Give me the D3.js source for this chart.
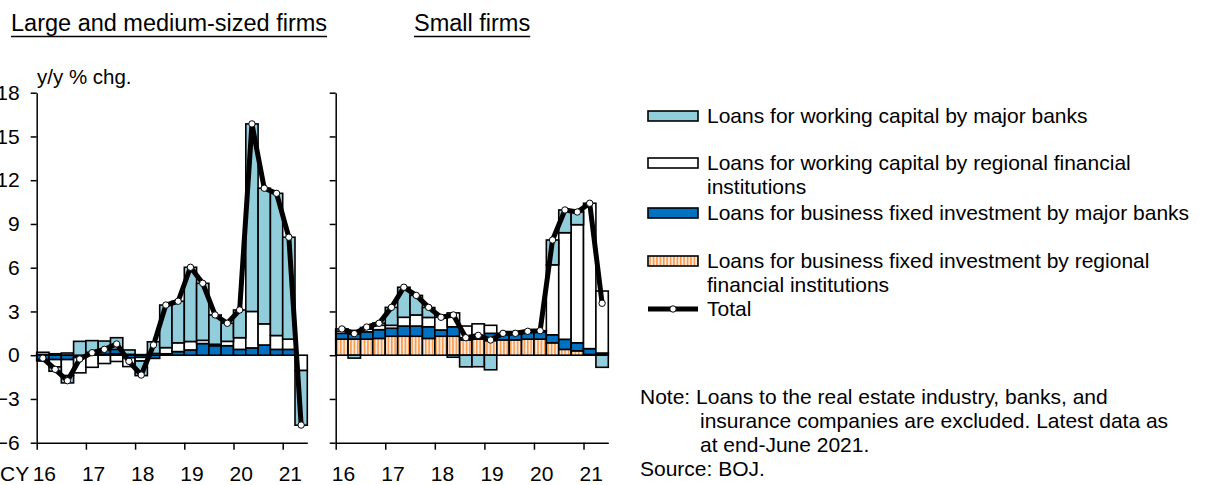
<!DOCTYPE html>
<html>
<head>
<meta charset="utf-8">
<script src="https://cdn.jsdelivr.net/npm/d3@7"></script>
<style>
  body { margin: 0; background: #fff; }
  svg { font-family: "Liberation Sans", Arial, sans-serif; }
</style>
</head>
<body>
<svg id="chart" width="1205" height="485"></svg>
<script>
// Quarters 2016Q1 .. 2021Q2
const quarters = ["16Q1","16Q2","16Q3","16Q4","17Q1","17Q2","17Q3","17Q4","18Q1","18Q2","18Q3","18Q4",
                  "19Q1","19Q2","19Q3","19Q4","20Q1","20Q2","20Q3","20Q4","21Q1","21Q2"];
const yearLabels = ["16","17","18","19","20","21"];
const yTicks = [-6, -3, 0, 3, 6, 9, 12, 15, 18];

// Large and medium-sized firms
const lmWcMajor    = [-0.1,-0.3,-0.5,0.95, 0.8,0.6,0.8,0.3, -1.0,0.8,2.92,2.85, 5.09,3.91,2.01,1.24, 1.9,12.86,9.3,9.75, 6.99,-3.75];
const lmWcRegional = [0.15,-0.5,-1.1,-1.05, -0.83,-0.57,-0.43,-0.6, -0.25,0.12,0.42,0.6, 0.58,0.22,0.1,0.3, 0.8,2.5,1.45,0.95, 0.7,-1.05];
const lmBfiMajor   = [-0.3,-0.3,-0.3,-0.1, 0.15,0.3,0.3,-0.18, -0.15,-0.22,0.1,0.25, 0.36,0.8,0.65,0.65, 0.4,0.5,0.7,0.4, 0.4,0];
const lmBfiRegional= [0.05,0.1,0.15,-0.06, 0.05,0.07,0.1,0.06, 0.04,0,0,0, 0,0,0,0, 0,0,0,0, 0,0];
const lmTotal      = [-0.2,-0.97,-1.75,-0.26, 0.17,0.4,0.77,-0.42, -1.36,0.7,3.44,3.7, 6.03,4.93,2.76,2.19, 3.1,15.86,11.45,11.1, 8.09,-4.79];

// Small firms
const smWcMajor    = [0.15,-0.2,0.1,0.15, 1.23,2.06,1.34,0.68, 0,-0.14,-0.8,-0.79, -1.0,0,0,0, 0.03,1.7,1.56,0.87, 0,-0.83];
const smWcRegional = [0.15,0.25,0.2,0.3, 0.2,0.6,0.76,0.64, 0.87,0.95,0.8,0.8, 0.55,0,0,0.05, 0.05,4.8,7.31,8.1, 9.97,4.25];
const smBfiMajor   = [0.4,0.35,0.5,0.6, 0.55,0.7,0.7,0.8, 0.43,0.65,0.15,0.25, 0.5,0.45,0.45,0.5, 0.5,0.55,0.69,0.55, 0.4,0.1];
const smBfiRegional= [1.1,1.1,1.1,1.15, 1.3,1.3,1.3,1.15, 1.3,1.3,1.05,1.1, 1.0,1.05,1.05,1.1, 1.1,0.85,0.4,0.3, 0.05,0.05];
const smTotal      = [1.8,1.48,1.93,2.19, 3.28,4.66,4.1,3.28, 2.6,2.76,1.2,1.36, 1.04,1.5,1.5,1.64, 1.68,7.9,9.96,9.82, 10.42,3.56];

const seriesKeys = ["bfiReg", "bfiMaj", "wcReg", "wcMaj"];
const legendNames = [
  ["Loans for working capital by major banks"],
  ["Loans for working capital by regional financial", "institutions"],
  ["Loans for business fixed investment by major banks"],
  ["Loans for business fixed investment by regional", "financial institutions"],
  ["Total"]
];

const svg = d3.select("#chart");

// stripe pattern for regional BFI
const defs = svg.append("defs");
const pat = defs.append("pattern").attr("id", "stripes").attr("patternUnits", "userSpaceOnUse")
    .attr("width", 3.4).attr("height", 4);
pat.append("rect").attr("width", 3.4).attr("height", 4).attr("fill", "#fde9d9");
pat.append("rect").attr("width", 1.5).attr("height", 4).attr("fill", "#f79646");

const fills = { bfiReg: "url(#stripes)", bfiMaj: "#0070c0", wcReg: "#ffffff", wcMaj: "#92cddc" };

const y = d3.scaleLinear().domain([-6, 18]).range([442.7, 92.7]);

function drawPanel(x0, x1, cols, total, showLabels) {
    const g = svg.append("g");
    const x = d3.scaleBand().domain(quarters).range([x0, x1]).padding(0);
    const xq = d3.scaleLinear().domain([0, quarters.length]).range([x0, x1]);

    const rows = quarters.map((q, i) => ({
        q, bfiReg: cols.bfiReg[i], bfiMaj: cols.bfiMaj[i], wcReg: cols.wcReg[i], wcMaj: cols.wcMaj[i]
    }));
    const stack = d3.stack().keys(seriesKeys).offset(d3.stackOffsetDiverging)(rows);

    g.selectAll("g.layer").data(stack).enter().append("g")
        .attr("class", "layer")
        .attr("fill", d => fills[d.key])
        .selectAll("rect").data(d => d).enter().append("rect")
        .attr("x", d => x(d.data.q))
        .attr("width", x.bandwidth())
        .attr("y", d => y(Math.max(d[0], d[1])))
        .attr("height", d => Math.abs(y(d[0]) - y(d[1])))
        .attr("stroke", "#000")
        .attr("stroke-width", 1.6)
        .attr("display", d => Math.abs(d[1] - d[0]) < 1e-9 ? "none" : null);

    // total line
    const line = d3.line().x((d, i) => x(quarters[i]) + x.bandwidth() / 2).y(d => y(d));
    g.append("path").datum(total)
        .attr("fill", "none").attr("stroke", "#000").attr("stroke-width", 5)
        .attr("stroke-linejoin", "round")
        .attr("d", line);
    g.selectAll("circle").data(total).enter().append("circle")
        .attr("cx", (d, i) => x(quarters[i]) + x.bandwidth() / 2)
        .attr("cy", d => y(d))
        .attr("r", 3.2)
        .attr("fill", "#fff").attr("stroke", "#000").attr("stroke-width", 1);

    // y axis
    const ya = g.append("g").attr("transform", `translate(${x0},0)`)
        .call(d3.axisLeft(y).tickValues(yTicks).tickSize(6).tickSizeOuter(0).tickPadding(11));
    ya.select(".domain").attr("stroke-width", 1.5);
    ya.selectAll(".tick line").attr("stroke-width", 1.5);
    ya.selectAll("text").style("font-size", "21px").attr("fill", "#000")
        .attr("display", showLabels ? null : "none");

    // x axis at bottom
    const xa = g.append("g").attr("transform", `translate(0,${y(-6)})`)
        .call(d3.axisBottom(xq).tickValues([0, 4, 8, 12, 16, 20]).tickSize(7).tickSizeOuter(0)
            .tickFormat((d, i) => yearLabels[i]).tickPadding(16.5));
    xa.select(".domain").attr("stroke-width", 1.5);
    xa.selectAll(".tick line").attr("stroke-width", 1.5);
    xa.selectAll("text").style("font-size", "21px").attr("fill", "#000")
        .attr("dx", x.bandwidth() / 2 + 1);
}

drawPanel(36.7, 307.3,
    { bfiReg: lmBfiRegional, bfiMaj: lmBfiMajor, wcReg: lmWcRegional, wcMaj: lmWcMajor }, lmTotal, true);
drawPanel(335.7, 608.3,
    { bfiReg: smBfiRegional, bfiMaj: smBfiMajor, wcReg: smWcRegional, wcMaj: smWcMajor }, smTotal, false);

// panel titles
function title(x, text) {
    const t = svg.append("text").attr("x", x).attr("y", 31).style("font-size", "23.5px").text(text);
    const w = t.node().getComputedTextLength();
    svg.append("line").attr("x1", x).attr("x2", x + w).attr("y1", 36.5).attr("y2", 36.5)
        .attr("stroke", "#000").attr("stroke-width", 1.4);
}
title(11, "Large and medium-sized firms");
title(414, "Small firms");

svg.append("text").attr("x", 37).attr("y", 84).style("font-size", "20.5px").text("y/y % chg.");
svg.append("text").attr("x", 0).attr("y", 481).style("font-size", "21px").text("CY");

// legend
const legendY = [116, 163, 213, 261, 309];
const legendKeys = ["wcMaj", "wcReg", "bfiMaj", "bfiReg", "total"];
const lg = svg.append("g");
legendKeys.forEach((k, i) => {
    const cy = legendY[i];
    if (k === "total") {
        lg.append("line").attr("x1", 648).attr("x2", 698).attr("y1", cy).attr("y2", cy)
            .attr("stroke", "#000").attr("stroke-width", 5);
        lg.append("circle").attr("cx", 673).attr("cy", cy).attr("r", 3.2)
            .attr("fill", "#fff").attr("stroke", "#000").attr("stroke-width", 1);
    } else {
        lg.append("rect").attr("x", 648).attr("y", cy - 5).attr("width", 50).attr("height", 10)
            .attr("fill", fills[k]).attr("stroke", "#000").attr("stroke-width", 1.6);
    }
    legendNames[i].forEach((line, j) => {
        lg.append("text").attr("x", 707).attr("y", cy + 7 + j * 24).style("font-size", "21px").text(line);
    });
});

// note
const noteLines = [
    [640, "Note: Loans to the real estate industry, banks, and"],
    [700, "insurance companies are excluded. Latest data as"],
    [700, "at end-June 2021."],
    [640, "Source: BOJ."]
];
noteLines.forEach((d, i) => {
    svg.append("text").attr("x", d[0]).attr("y", 404 + i * 24).style("font-size", "21px").text(d[1]);
});
</script>
</body>
</html>
